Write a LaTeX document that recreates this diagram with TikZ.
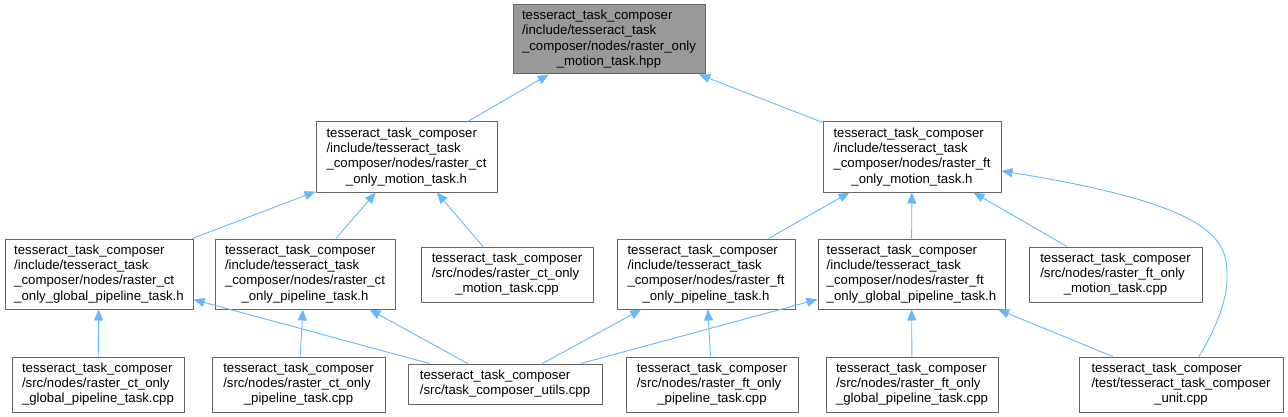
\documentclass[tikz,border=0pt]{standalone}
\usepackage{fontspec}
\setmainfont{Liberation Sans}
\usetikzlibrary{arrows.meta}
\definecolor{boxline}{HTML}{666666}
\definecolor{rootfill}{HTML}{999999}
\definecolor{edgeblue}{HTML}{63B8FF}
\newcommand\boxtext[2]{\begin{tabular}{@{}l@{}}#1\\\multicolumn{1}{@{}c@{}}{#2}\end{tabular}}
\tikzset{
  filebox/.style={draw=boxline, line width=1pt, fill=white, rectangle, inner sep=0pt,
    font=\fontsize{13.2}{15.3}\selectfont},
  rootbox/.style={filebox, fill=rootfill},
  edge/.style={draw=edgeblue, line width=0.9pt, -{Triangle[length=11pt,width=9pt]}}
}
\begin{document}
\begin{tikzpicture}[x=1pt,y=-1pt]
\useasboundingbox (0,0) rectangle (1288,417);
% level 1
\node[rootbox, minimum width=192, minimum height=69] (n1) at (609,39.5)
  {\boxtext{tesseract\_task\_composer\\/include/tesseract\_task\\\_composer/nodes/raster\_only}{\_motion\_task.hpp}};
% level 2
\node[filebox, minimum width=181, minimum height=70] (n2) at (406.5,157)
  {\boxtext{tesseract\_task\_composer\\/include/tesseract\_task\\\_composer/nodes/raster\_ct}{\_only\_motion\_task.h}};
\node[filebox, minimum width=178, minimum height=70] (n3) at (912,157)
  {\boxtext{tesseract\_task\_composer\\/include/tesseract\_task\\\_composer/nodes/raster\_ft}{\_only\_motion\_task.h}};
% level 3
\node[filebox, minimum width=188, minimum height=70] (n4) at (99,274)
  {\boxtext{tesseract\_task\_composer\\/include/tesseract\_task\\\_composer/nodes/raster\_ct}{\_only\_global\_pipeline\_task.h}};
\node[filebox, minimum width=180, minimum height=70] (n5) at (305,274)
  {\boxtext{tesseract\_task\_composer\\/include/tesseract\_task\\\_composer/nodes/raster\_ct}{\_only\_pipeline\_task.h}};
\node[filebox, minimum width=172, minimum height=55] (n6) at (507,274.5)
  {\boxtext{tesseract\_task\_composer\\/src/nodes/raster\_ct\_only}{\_motion\_task.cpp}};
\node[filebox, minimum width=178, minimum height=70] (n7) at (706,274)
  {\boxtext{tesseract\_task\_composer\\/include/tesseract\_task\\\_composer/nodes/raster\_ft}{\_only\_pipeline\_task.h}};
\node[filebox, minimum width=187, minimum height=70] (n8) at (911.5,274)
  {\boxtext{tesseract\_task\_composer\\/include/tesseract\_task\\\_composer/nodes/raster\_ft}{\_only\_global\_pipeline\_task.h}};
\node[filebox, minimum width=173, minimum height=55] (n9) at (1115.5,274.5)
  {\boxtext{tesseract\_task\_composer\\/src/nodes/raster\_ft\_only}{\_motion\_task.cpp}};
% level 4
\node[filebox, minimum width=172, minimum height=55] (n10) at (98,384.5)
  {\boxtext{tesseract\_task\_composer\\/src/nodes/raster\_ct\_only}{\_global\_pipeline\_task.cpp}};
\node[filebox, minimum width=173, minimum height=55] (n11) at (298.5,384.5)
  {\boxtext{tesseract\_task\_composer\\/src/nodes/raster\_ct\_only}{\_pipeline\_task.cpp}};
\node[filebox, minimum width=194, minimum height=40] (n12) at (505,384)
  {\boxtext{tesseract\_task\_composer}{/src/task\_composer\_utils.cpp}};
\node[filebox, minimum width=172, minimum height=55] (n13) at (712,384.5)
  {\boxtext{tesseract\_task\_composer\\/src/nodes/raster\_ft\_only}{\_pipeline\_task.cpp}};
\node[filebox, minimum width=172, minimum height=55] (n14) at (912,384.5)
  {\boxtext{tesseract\_task\_composer\\/src/nodes/raster\_ft\_only}{\_global\_pipeline\_task.cpp}};
\node[filebox, minimum width=204, minimum height=55] (n15) at (1181,384.5)
  {\boxtext{tesseract\_task\_composer\\/test/tesseract\_task\_composer}{\_unit.cpp}};
% edges
\draw[edge] (n2) -- (n1);
\draw[edge] (n3) -- (n1);
\draw[edge] (n4) -- (n2);
\draw[edge] (n5) -- (n2);
\draw[edge] (n6) -- (n2);
\draw[edge] (n7) -- (n3);
\draw[edge] (n8) -- (n3);
\draw[edge] (n9) -- (n3);
\draw[edge] ([xshift=18pt]n15.north) .. controls (1215,330) and (1228,300) .. (1227,275)
  .. controls (1227,240) and (1215,205) .. ([yshift=-14pt]n3.east);
\draw[edge] (n10) -- (n4);
\draw[edge] (n12) -- (n4);
\draw[edge] (n11) -- (n5);
\draw[edge] (n12) -- (n5);
\draw[edge] (n12) -- (n7);
\draw[edge] (n13) -- (n7);
\draw[edge] (n12) -- (n8);
\draw[edge] (n14) -- (n8);
\draw[edge] (n15) -- (n8);
\end{tikzpicture}
\end{document}
